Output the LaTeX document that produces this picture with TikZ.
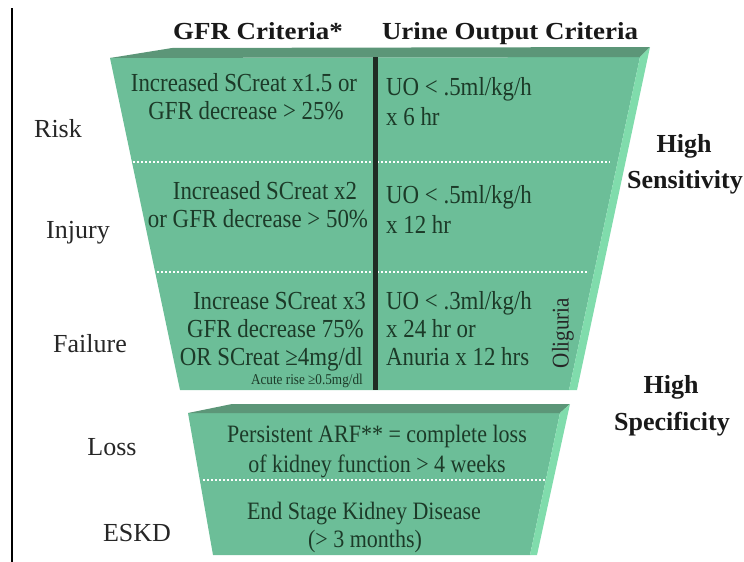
\documentclass[tikz,border=0pt]{standalone}
\usepackage{fontspec}
\setmainfont{Liberation Serif}
\newfontfamily\condfont{Liberation Serif}[FakeStretch=0.88]
\newfontfamily\headfont{Liberation Serif}[FakeStretch=1.1]
\usepackage{tikz}
\usetikzlibrary{calc}
\definecolor{funnelFill}{RGB}{108,190,152}
\definecolor{funnelTop}{RGB}{92,150,120}
\definecolor{funnelRim}{RGB}{128,220,172}
\definecolor{critText}{RGB}{28,58,40}
\definecolor{divider}{RGB}{32,44,36}

\begin{document}
\begin{tikzpicture}[x=1pt, y=-1pt,
  crit/.style={font=\condfont\fontsize{26}{30}\selectfont, text=critText, inner sep=0pt, anchor=base},
  small/.style={font=\condfont\fontsize{15}{18}\selectfont, text=critText, inner sep=0pt, anchor=base east},
  stage/.style={font=\fontsize{26}{30}\selectfont, text=black!85, inner sep=0pt, anchor=base},
  head/.style={font=\headfont\bfseries\fontsize{24.5}{30}\selectfont, text=black!90, inner sep=0pt, anchor=base},
  side/.style={font=\bfseries\fontsize{26}{30}\selectfont, text=black!90, inner sep=0pt, anchor=base},
  sep/.style={white, line width=2pt, dash pattern=on 2pt off 2pt}]
  \useasboundingbox (0,0) rectangle (744,562);

  % left rule
  \draw[line width=2pt] (12,8) -- (12,562);

  % upper funnel
  \fill[funnelFill] (110,58) -- (640,57) -- (569,390) -- (180,390) -- cycle;
  \fill[funnelTop] (110,58) -- (172,48) -- (650,47) -- (640,57) -- cycle;
  \fill[funnelRim] (640,57) -- (650,47) -- (577,390) -- (569,390) -- cycle;
  \draw[sep] (133,162) -- (610,162);
  \draw[sep] (145,272) -- (587,272);
  \draw[divider, line width=5pt] (375,57) -- (375,390);

  % lower funnel
  \fill[funnelFill] (188,413) -- (560,413) -- (530,555) -- (213,555) -- cycle;
  \fill[funnelTop] (188,413) -- (232,404) -- (570,404) -- (560,413) -- cycle;
  \fill[funnelRim] (560,413) -- (570,404) -- (537,555) -- (530,555) -- cycle;
  \draw[sep] (203,480) -- (545,480);

  % headings
  \node[head] (gfrHead) at (258,39) {GFR Criteria*};
  \node[head] (uoHead) at (510,39) {Urine Output Criteria};

  % stages
  \node[stage] (risk) at (58,137) {Risk};
  \node[stage] (injury) at (78,238) {Injury};
  \node[stage] (failure) at (90,352) {Failure};
  \node[stage] (loss) at (112,455) {Loss};
  \node[stage] (eskd) at (137,541) {ESKD};

  % GFR criteria
  \node[crit] (gfrRiskA) at (244,91) {Increased SCreat x1.5 or};
  \node[crit] (gfrRiskB) at (246,119) {GFR decrease > 25\%};
  \node[crit] (gfrInjA) at (265,199) {Increased SCreat x2};
  \node[crit] (gfrInjB) at (258,227) {or GFR decrease > 50\%};
  \node[crit, anchor=base east] (gfrFailA) at (366,309) {Increase SCreat x3};
  \node[crit, anchor=base east] (gfrFailB) at (364,337) {GFR decrease 75\%};
  \node[crit, anchor=base east] (gfrFailC) at (363,365) {OR SCreat ≥4mg/dl};
  \node[small] (gfrFailD) at (363,384) {Acute rise ≥0.5mg/dl};

  % urine output criteria
  \node[crit, anchor=base west] (uoRiskA) at (386,95) {UO < .5ml/kg/h};
  \node[crit, anchor=base west] (uoRiskB) at (386,125) {x 6 hr};
  \node[crit, anchor=base west] (uoInjA) at (386,203) {UO < .5ml/kg/h};
  \node[crit, anchor=base west] (uoInjB) at (386,233) {x 12 hr};
  \node[crit, anchor=base west] (uoFailA) at (386,309) {UO < .3ml/kg/h};
  \node[crit, anchor=base west] (uoFailB) at (386,337) {x 24 hr or};
  \node[crit, anchor=base west] (uoFailC) at (386,365) {Anuria x 12 hrs};
  \node[crit, anchor=center, rotate=90, text=black!85, font=\condfont\fontsize{24}{28}\selectfont] (oliguria) at (563,333) {Oliguria};

  % loss and ESKD
  \node[crit, font=\condfont\fontsize{25}{30}\selectfont] (lossA) at (377,442) {Persistent ARF** = complete loss};
  \node[crit, font=\condfont\fontsize{25}{30}\selectfont] (lossB) at (377,472) {of kidney function > 4 weeks};
  \node[crit, font=\condfont\fontsize{25}{30}\selectfont] (eskdA) at (364,519) {End Stage Kidney Disease};
  \node[crit, font=\condfont\fontsize{25}{30}\selectfont] (eskdB) at (365,547) {(> 3 months)};

  % right side
  \node[side] (sensA) at (684,152) {High};
  \node[side] (sensB) at (685,188) {Sensitivity};
  \node[side] (specA) at (671,393) {High};
  \node[side] (specB) at (672,430) {Specificity};
\end{tikzpicture}
\end{document}
